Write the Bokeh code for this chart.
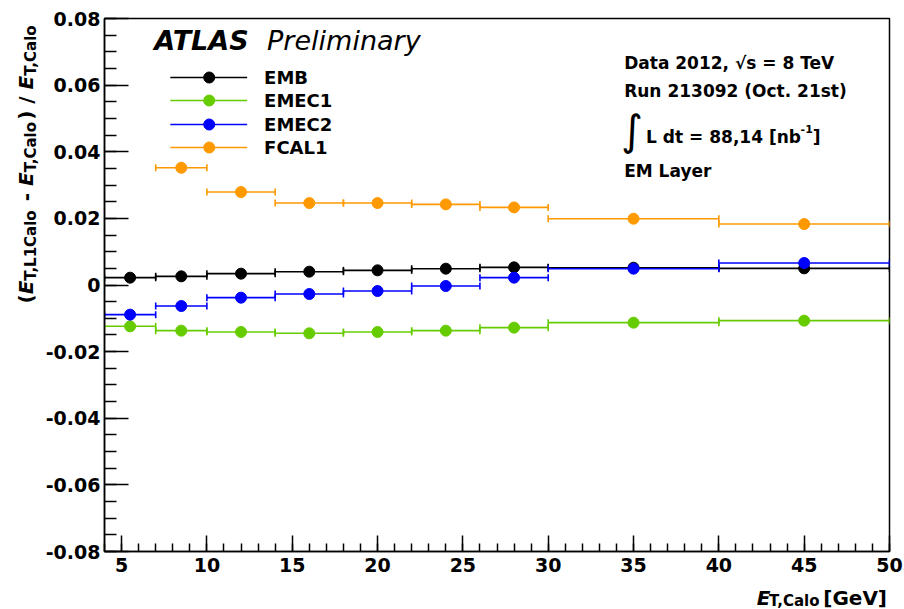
import numpy as np
from bokeh.plotting import figure
from bokeh.models import Range1d, FixedTicker, Label
from bokeh.layouts import row, column
from bokeh.embed import file_html
from bokeh.resources import INLINE

# ---------------- data ----------------
bin_lo = [4, 7, 10, 14, 18, 22, 26, 30, 40]
bin_hi = [7, 10, 14, 18, 22, 26, 30, 40, 50]
bin_center = [5.5, 8.5, 12, 16, 20, 24, 28, 35, 45]

emb = [0.0022, 0.0026, 0.0034, 0.0040, 0.0044, 0.0049, 0.0053, 0.0052, 0.0050]
emec1 = [-0.0124, -0.0137, -0.0141, -0.0145, -0.0141, -0.0137, -0.0128, -0.0113, -0.0107]
emec2 = [-0.0089, -0.0063, -0.0038, -0.0027, -0.0018, -0.0003, 0.0022, 0.0049, 0.0066]
fcal1 = [0.0352, 0.0279, 0.0246, 0.0246, 0.0242, 0.0233, 0.0199, 0.0183]  # starts at 2nd bin

series_names = ["EMB", "EMEC1", "EMEC2", "FCAL1"]
series_values = [emb, emec1, emec2, fcal1]
series_colors = ["#000000", "#66cc00", "#0000ff", "#ff9900"]
series_first_bin = [0, 0, 0, 1]

x_ticks = [5, 10, 15, 20, 25, 30, 35, 40, 45, 50]
x_tick_labels = ["5", "10", "15", "20", "25", "30", "35", "40", "45", "50"]
y_ticks = [-0.08, -0.06, -0.04, -0.02, 0.0, 0.02, 0.04, 0.06, 0.08]
y_tick_labels = ["-0.08", "-0.06", "-0.04", "-0.02", "0", "0.02", "0.04", "0.06", "0.08"]

# ---------------- layout ----------------
W, H = 904, 609
LW = 42          # width of the strip holding the y title
BH = 26          # height of the strip holding the x title
FL, FR, FT, FB = 102, 889, 18, 551   # frame edges in page pixels
X0, X1 = 4, 50
Y0, Y1 = -0.08, 0.08
FONT = "DejaVu Sans"


def dx(px):
    return X0 + (px - FL) / (FR - FL) * (X1 - X0)


def dy(py):
    return Y1 - (py - FT) / (FB - FT) * (Y1 - Y0)


p = figure(width=W - LW, height=H - BH, x_range=Range1d(X0, X1), y_range=Range1d(Y0, Y1),
           output_backend="svg", toolbar_location=None,
           min_border_left=FL - LW, min_border_right=W - FR,
           min_border_top=FT, min_border_bottom=H - BH - FB)
p.background_fill_color = "white"
p.border_fill_color = "white"
p.outline_line_color = "black"
p.outline_line_width = 1.5
p.xgrid.visible = False
p.ygrid.visible = False

p.xaxis.ticker = FixedTicker(ticks=x_ticks, minor_ticks=list(range(4, 51)))
p.yaxis.ticker = FixedTicker(ticks=y_ticks,
                             minor_ticks=[round(v, 4) for v in np.arange(-0.08, 0.0801, 0.005)])
p.xaxis.major_label_overrides = {float(t): l for t, l in zip(x_ticks, x_tick_labels)}
p.yaxis.major_label_overrides = {float(t): l for t, l in zip(y_ticks, y_tick_labels)}

for ax in (p.xaxis[0], p.yaxis[0]):
    ax.axis_line_color = "black"
    ax.axis_line_width = 1.5
    ax.major_tick_line_color = "black"
    ax.major_tick_line_width = 1.5
    ax.minor_tick_line_color = "black"
    ax.minor_tick_line_width = 1.5
    ax.major_tick_out = 0
    ax.minor_tick_out = 0
    ax.major_label_text_font = FONT
    ax.major_label_text_font_style = "bold"
    ax.major_label_text_font_size = "19px"
    ax.major_label_text_color = "black"
p.xaxis.major_tick_in = 16
p.xaxis.minor_tick_in = 8
p.yaxis.major_tick_in = 24
p.yaxis.minor_tick_in = 12
p.xaxis.major_label_standoff = 6
p.yaxis.major_label_standoff = 4

# ---------------- series ----------------
for name, vals, color, start in zip(series_names, series_values, series_colors, series_first_bin):
    lo = bin_lo[start:]
    hi = bin_hi[start:]
    xc = bin_center[start:]
    p.segment(x0=lo, y0=vals, x1=hi, y1=vals, line_color=color, line_width=1.6)
    p.scatter(x=lo + hi, y=vals + vals, marker="dash", angle=np.pi / 2, size=7,
              line_color=color, line_width=1.6)
    p.scatter(x=xc, y=vals, marker="circle", size=11, fill_color=color, line_color=color)

# ---------------- legend (manual, ROOT style) ----------------
legend_rows_px = [77, 100, 124, 147]
for name, color, rowpx in zip(series_names, series_colors, legend_rows_px):
    yc = dy(rowpx)
    p.segment(x0=[dx(168)], y0=[yc], x1=[dx(245)], y1=[yc], line_color=color, line_width=1.6)
    p.scatter(x=[dx(207)], y=[yc], marker="circle", size=11, fill_color=color, line_color=color)
    p.add_layout(Label(x=dx(262), y=yc, text=name, text_baseline="middle",
                       text_font=FONT, text_font_style="bold", text_font_size="18px",
                       text_color="black"))


# ---------------- side strips for axis titles ----------------
def strip(width, height, x_start, y_top):
    f = figure(width=width, height=height,
               x_range=Range1d(x_start, x_start + width), y_range=Range1d(y_top + height, y_top),
               output_backend="svg", toolbar_location=None,
               x_axis_type=None, y_axis_type=None,
               min_border=0, min_border_left=0, min_border_right=0,
               min_border_top=0, min_border_bottom=0)
    f.outline_line_color = None
    f.background_fill_color = "white"
    f.border_fill_color = "white"
    f.xgrid.visible = False
    f.ygrid.visible = False
    return f


left_strip = strip(LW, H, 0, 0)
bottom_strip = strip(W - LW, BH, LW, H - BH)

WID = {'(': .457, ')': .457, ' ': .348, '-': .415, '/': .365, ',': .380, '.': .380,
       '[': .457, ']': .457, '=': .838, 'A': .774, 'C': .734, 'D': .830, 'E': .683,
       'G': .821, 'L': .637, 'M': .995, 'T': .682, 'V': .774, 'a': .675, 'b': .716,
       'd': .716, 'e': .678, 'l': .343, 'n': .712, 'o': .687, 't': .478, 'y': .652,
       'r': .493, 's': .595}
for ch in "0123456789":
    WID[ch] = .696


def tw(text, size):
    return sum(WID.get(c, .65) for c in text) * size


def runs_width(runs):
    return sum(tw(t, s) for t, s, _, _ in runs)


def runs_horizontal(fig, runs, x_px, base_px, conv_x, conv_y):
    x = x_px
    for text, size, style, shift in runs:
        lead = len(text) - len(text.lstrip(" "))
        core = text.strip(" ")
        if core:
            fig.add_layout(Label(x=conv_x(x + tw(" " * lead, size)), y=conv_y(base_px + shift),
                                 text=core, text_font=FONT, text_font_style=style,
                                 text_font_size=f"{size}px", text_color="black",
                                 text_baseline="alphabetic", text_align="left"))
        x += tw(text, size)


def runs_vertical(fig, runs, base_x_px, y_start_px):
    y = y_start_px
    for text, size, style, shift in runs:
        lead = len(text) - len(text.lstrip(" "))
        core = text.strip(" ")
        if core:
            fig.add_layout(Label(x=base_x_px + shift, y=y - tw(" " * lead, size), text=core,
                                 angle=np.pi / 2, angle_units="rad",
                                 text_font=FONT, text_font_style=style,
                                 text_font_size=f"{size}px", text_color="black",
                                 text_baseline="alphabetic", text_align="left"))
        y -= tw(text, size)


ident = lambda v: v

# y-axis title (page pixels inside the left strip)
y_title = [("(", 20, "bold", 0), ("E", 20, "bold italic", 0), ("T,L1Calo", 15, "bold", 5),
           (" - ", 20, "bold", 0), ("E", 20, "bold italic", 0), ("T,Calo", 15, "bold", 5),
           (") / ", 20, "bold", 0), ("E", 20, "bold italic", 0), ("T,Calo", 15, "bold", 5)]
runs_vertical(left_strip, y_title, 25, 303)

# x-axis title (right aligned at the frame end, inside the bottom strip)
x_title = [("E", 20, "bold italic", 0), ("T,Calo", 15, "bold", 3), (" [GeV]", 20, "bold", 0)]
runs_horizontal(bottom_strip, x_title, 895 - runs_width(x_title), 597, ident, ident)

# ATLAS Preliminary
p.add_layout(Label(x=dx(152), y=dy(55), text="ATLAS", text_font=FONT,
                   text_font_style="bold italic", text_font_size="27px", text_color="black"))
p.add_layout(Label(x=dx(265), y=dy(55), text="Preliminary", text_font=FONT,
                   text_font_style="italic", text_font_size="27px", text_color="black"))

# info block
p.add_layout(Label(x=dx(623), y=dy(72), text="Data 2012, √s = 8 TeV", text_font=FONT,
                   text_font_style="bold", text_font_size="17px", text_color="black"))
p.add_layout(Label(x=dx(623), y=dy(100), text="Run 213092 (Oct. 21st)", text_font=FONT,
                   text_font_style="bold", text_font_size="17px", text_color="black"))
p.add_layout(Label(x=dx(620), y=dy(154), text="∫", text_font=FONT,
                   text_font_style="normal", text_font_size="42px", text_color="black"))
runs_horizontal(p, [("L dt = 88,14 [nb", 17, "bold", 0), ("-1", 11, "bold", -8),
                    ("]", 17, "bold", 0)], 645, 136, dx, dy)
p.add_layout(Label(x=dx(623), y=dy(180), text="EM Layer", text_font=FONT,
                   text_font_style="bold", text_font_size="17px", text_color="black"))

layout = row(left_strip, column(p, bottom_strip, spacing=0), spacing=0)
open("out.html", "w").write(file_html(layout, INLINE))
